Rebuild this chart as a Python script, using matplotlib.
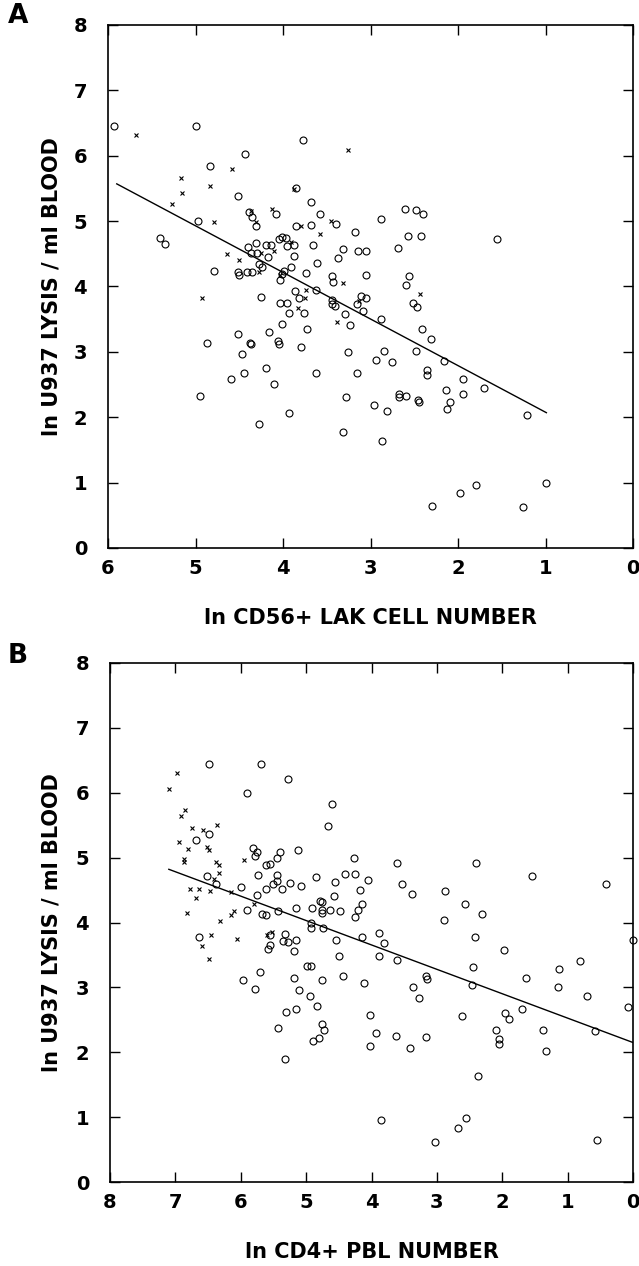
import numpy as np
import matplotlib
matplotlib.use("Agg")
import matplotlib.pyplot as plt

# panel A: ln CD56+ LAK cell number vs ln U937 lysis / ml blood
a_circ_x = [5.93, 4.99, 3.77, 4.43, 4.84, 3.85, 4.52, 3.68, 3.58, 4.39, 4.35, 4.08, 4.97, 4.31,
            3.85, 3.68, 3.40, 3.18, 5.41, 5.35, 4.01, 3.97, 4.05, 4.31, 4.20, 4.14, 4.40, 3.87,
            3.95, 3.66, 3.32, 3.14, 3.05, 4.37, 4.30, 3.87, 4.17, 3.37, 3.61, 4.28, 4.24, 3.91,
            3.99, 4.79, 4.51, 4.50, 4.41, 4.36, 4.01, 3.74, 4.03, 3.44, 3.43, 3.05, 3.62, 3.86,
            3.82, 4.25, 3.11, 3.05, 3.44, 3.44, 3.41, 4.04, 3.95, 3.15, 3.09, 3.93, 3.76, 3.29,
            2.61, 2.48, 2.40, 2.88, 2.57, 2.42, 1.55, 2.69, 2.56, 2.60, 2.51, 2.47,
            3.23, 4.01, 3.73, 4.16, 4.52, 4.87, 4.38, 4.37, 4.06, 4.05, 3.79, 3.26, 4.47, 4.19,
            3.62, 3.15, 4.45, 4.59, 4.10, 4.95, 3.28, 3.93, 4.28, 3.31,
            2.88, 2.41, 2.31, 2.85, 2.48, 2.94, 2.75, 2.16, 2.35, 2.36, 1.94, 1.70, 2.14, 1.94,
            2.67, 2.67, 2.59, 2.46, 2.45, 2.09, 2.96, 2.13, 2.81, 1.21, 2.87, 1.80, 0.99, 1.98,
            2.30, 1.26]
a_circ_y = [6.45, 6.45, 6.24, 6.02, 5.85, 5.51, 5.38, 5.30, 5.11, 5.14, 5.06, 5.11, 5.00, 4.93,
            4.92, 4.94, 4.95, 4.84, 4.74, 4.65, 4.76, 4.74, 4.72, 4.67, 4.64, 4.63, 4.61, 4.63,
            4.62, 4.64, 4.57, 4.54, 4.54, 4.52, 4.51, 4.46, 4.45, 4.43, 4.36, 4.34, 4.30, 4.30,
            4.23, 4.24, 4.22, 4.17, 4.22, 4.22, 4.19, 4.20, 4.10, 4.16, 4.07, 4.17, 3.95, 3.93,
            3.83, 3.84, 3.86, 3.82, 3.79, 3.73, 3.70, 3.74, 3.74, 3.73, 3.62, 3.59, 3.60, 3.58,
            5.18, 5.17, 5.11, 5.04, 4.77, 4.77, 4.73, 4.59, 4.16, 4.02, 3.75, 3.68,
            3.41, 3.42, 3.35, 3.30, 3.27, 3.13, 3.14, 3.12, 3.16, 3.12, 3.08, 3.00, 2.96, 2.75,
            2.68, 2.68, 2.67, 2.59, 2.51, 2.33, 2.31, 2.07, 1.89, 1.77,
            3.51, 3.35, 3.19, 3.02, 3.02, 2.87, 2.85, 2.86, 2.73, 2.64, 2.58, 2.45, 2.41, 2.36,
            2.36, 2.31, 2.33, 2.27, 2.24, 2.24, 2.19, 2.13, 2.10, 2.03, 1.63, 0.97, 1.00, 0.84,
            0.64, 0.63]
a_x_x = [5.68, 3.26, 4.58, 3.87, 5.17, 4.83, 5.15, 5.27, 4.13, 4.37, 4.79, 4.31, 3.79, 3.45,
         3.58, 3.91, 4.64, 4.10, 4.25, 4.50, 4.27, 4.03, 3.31, 4.93, 3.74, 3.75, 3.83, 3.13,
         2.43, 3.38]
a_x_y = [6.32, 6.09, 5.79, 5.49, 5.66, 5.53, 5.43, 5.26, 5.19, 5.15, 4.99, 4.99, 4.92, 5.00,
         4.81, 4.68, 4.50, 4.54, 4.52, 4.40, 4.22, 4.17, 4.05, 3.82, 3.95, 3.82, 3.67, 3.78,
         3.88, 3.45]
a_line_x = [5.9, 0.99]
a_line_y = [5.57, 2.07]

# panel B: ln CD4+ PBL number vs ln U937 lysis / ml blood
b_circ_x = [6.49, 5.69, 5.28, 5.90, 4.61, 4.67, 6.48, 6.69, 5.82, 5.75, 5.78, 5.40, 5.45, 5.13,
            4.27, 5.61, 5.55, 6.51, 6.38, 5.74, 5.44, 5.44, 5.50, 5.37, 5.25, 5.08, 4.85, 4.40,
            4.25, 4.05, 4.56, 4.17, 5.99, 5.61, 5.75, 4.57, 4.14, 4.21, 4.26, 5.90, 5.67, 5.62,
            5.43, 5.15, 4.91, 4.79, 4.75, 4.76, 4.76, 4.63, 4.48, 4.92, 4.93, 4.74, 4.14, 4.55,
            4.50, 6.64, 5.55, 5.55, 5.33, 5.35, 5.27, 5.15, 5.59, 5.18, 4.99, 4.93,
            3.61, 2.40, 1.54, 0.41, 3.53, 3.38, 2.87, 2.57, 2.31, 2.89, 3.89, 3.81, 3.88, 3.61,
            2.42, 1.97, 0.81, 2.45, 1.13,
            5.70, 5.96, 5.78, 5.19, 4.75, 4.44, 4.11, 5.11, 4.94, 4.84, 5.31, 5.16, 5.43, 4.75,
            4.73, 4.90, 4.81, 5.33, 4.03, 4.03,
            3.16, 3.15, 3.37, 3.27, 2.47, 1.64, 1.14, 0.70, 0.08, 1.70, 2.61, 1.96, 1.90, 3.93,
            3.63, 3.16, 3.41, 2.10, 2.05, 2.05, 1.37, 1.33, 0.58, 2.37, 3.86, 2.68, 2.55, 3.03,
            0.55, 0.00]
b_circ_y = [6.44, 6.44, 6.21, 5.99, 5.83, 5.49, 5.36, 5.27, 5.15, 5.08, 5.02, 5.08, 5.00, 5.12,
            4.99, 4.89, 4.90, 4.71, 4.59, 4.73, 4.73, 4.64, 4.60, 4.51, 4.61, 4.56, 4.70, 4.74,
            4.74, 4.66, 4.62, 4.50, 4.54, 4.51, 4.42, 4.41, 4.28, 4.20, 4.08, 4.19, 4.13, 4.12,
            4.17, 4.22, 4.22, 4.33, 4.31, 4.20, 4.15, 4.19, 4.17, 3.99, 3.91, 3.92, 3.77, 3.73,
            3.49, 3.78, 3.80, 3.66, 3.82, 3.72, 3.70, 3.73, 3.59, 3.56, 3.33, 3.33,
            4.92, 4.92, 4.71, 4.60, 4.59, 4.44, 4.49, 4.28, 4.13, 4.04, 3.84, 3.69, 3.49, 3.42,
            3.78, 3.58, 3.40, 3.31, 3.28,
            3.24, 3.11, 2.98, 3.15, 3.11, 3.18, 3.07, 2.96, 2.86, 2.71, 2.62, 2.66, 2.38, 2.43,
            2.35, 2.18, 2.22, 1.89, 2.57, 2.09,
            3.17, 3.13, 3.00, 2.84, 3.03, 3.15, 3.01, 2.86, 2.69, 2.67, 2.56, 2.60, 2.52, 2.30,
            2.25, 2.23, 2.07, 2.35, 2.21, 2.12, 2.34, 2.02, 2.32, 1.63, 0.96, 0.84, 0.99, 0.62,
            0.64, 3.73]
b_x_x = [6.98, 7.10, 6.85, 6.91, 6.75, 6.57, 6.36, 6.95, 6.81, 6.52, 6.48, 6.87, 6.87, 6.38,
         6.33, 6.34, 5.95, 6.41, 6.77, 6.64, 6.47, 6.68, 6.15, 5.80, 6.82, 6.15, 6.11, 6.32,
         6.45, 6.05, 6.60, 5.60, 5.52, 6.49]
b_x_y = [6.31, 6.06, 5.74, 5.64, 5.45, 5.42, 5.50, 5.24, 5.13, 5.16, 5.12, 4.98, 4.93, 4.93,
         4.89, 4.77, 4.96, 4.67, 4.51, 4.51, 4.49, 4.37, 4.47, 4.29, 4.15, 4.12, 4.18, 4.02,
         3.80, 3.75, 3.64, 3.81, 3.85, 3.43]
b_line_x = [7.1, 0.0]
b_line_y = [4.82, 2.15]

a_xticks = [6, 5, 4, 3, 2, 1, 0]
b_xticks = [8, 7, 6, 5, 4, 3, 2, 1, 0]
yticks = [0, 1, 2, 3, 4, 5, 6, 7, 8]

plt.rcParams['font.family'] = ['DejaVu Sans']
plt.rcParams['font.weight'] = 'bold'

W, H = 639, 1266
fig = plt.figure(figsize=(W / 100, H / 100), dpi=100)


def px_axes(left, top, right, bottom):
    return fig.add_axes([left / W, 1 - bottom / H, (right - left) / W, (bottom - top) / H])


def style(ax, xmax, xticks, xlabel, left, width):
    ax.set_xlim(xmax, 0)
    ax.set_ylim(0, 8)
    ax.set_xticks(xticks)
    ax.set_yticks(yticks)
    ax.tick_params(direction='in', length=7, width=1, top=True, right=True,
                   labelsize=14, pad=8)
    ax.tick_params(axis='y', pad=15)
    for s in ax.spines.values():
        s.set_linewidth(1.2)
    ax.set_xlabel(xlabel, fontsize=15, fontweight='bold')
    ax.set_ylabel('ln U937 LYSIS / ml BLOOD', fontsize=15, fontweight='bold')
    # label centres: ylabel at x=52 px, xlabel ~70 px under the axis
    ax.xaxis.set_label_coords(0.5, -0.134)
    ax.yaxis.set_label_coords((52 - left) / width, 0.5)
    ax.xaxis.label.set_va('center')
    ax.yaxis.label.set_va('center')


circ = dict(marker='o', linestyle='none', markersize=5, markerfacecolor='none',
            markeredgecolor='black', markeredgewidth=0.8, clip_on=False)
cross = dict(marker='x', linestyle='none', markersize=3.2, color='black',
             markeredgewidth=0.8, clip_on=False)

axA = px_axes(108, 25, 633, 548)
axA.plot(a_circ_x, a_circ_y, **circ)
axA.plot(a_x_x, a_x_y, **cross)
axA.plot(a_line_x, a_line_y, color='black', linewidth=1)
style(axA, 6, a_xticks, 'ln CD56+ LAK CELL NUMBER', 108, 525)

axB = px_axes(110, 663, 633, 1182)
axB.plot(b_circ_x, b_circ_y, **circ)
axB.plot(b_x_x, b_x_y, **cross)
axB.plot(b_line_x, b_line_y, color='black', linewidth=1)
style(axB, 8, b_xticks, 'ln CD4+ PBL NUMBER', 110, 523)

fig.text(18 / W, 1 - 16 / H, 'A', fontsize=19, fontweight='bold', ha='center', va='center')
fig.text(18 / W, 1 - 656 / H, 'B', fontsize=19, fontweight='bold', ha='center', va='center')

fig.savefig('out.png', dpi=100)
